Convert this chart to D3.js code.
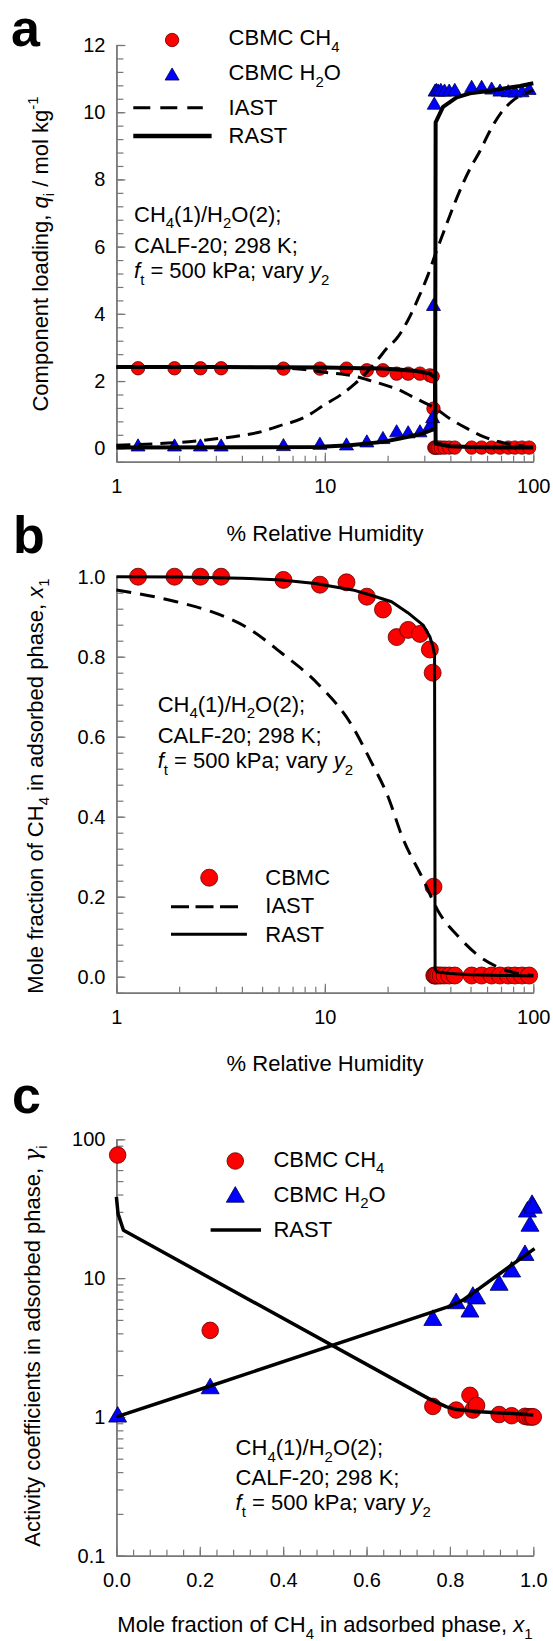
<!DOCTYPE html>
<html><head><meta charset="utf-8">
<script src="https://cdnjs.cloudflare.com/ajax/libs/d3/7.8.5/d3.min.js"></script>
<style>body{margin:0;background:#fff} svg text{font-family:"Liberation Sans",Arial,sans-serif;fill:#000}</style>
</head><body><svg id="c" width="553" height="1641"></svg>
<script>
// ---------- DATA ----------
const rhData  = [1.27,1.90,2.53,3.18,6.33,9.47,12.7,15.9,19.0,22.1,25.1,28.6,31.9,32.9,33.2,33.5,33.8,34.3,35.0,36.0,37.5,39.5,42.0,50.6,56.5,63.1,69.2,75.8,81.6,88.3,95.5];
const qCH4Data = [2.38,2.38,2.38,2.38,2.37,2.37,2.37,2.32,2.32,2.22,2.22,2.22,2.17,2.14,1.18,0.02,0.02,0.02,0.02,0.02,0.02,0.02,0.02,0.02,0.02,0.02,0.02,0.02,0.02,0.02,0.02];
const qH2OData = [0.04,0.04,0.04,0.04,0.05,0.09,0.07,0.16,0.26,0.46,0.43,0.46,0.64,0.88,4.22,10.21,10.60,10.62,10.60,10.62,10.60,10.60,10.62,10.71,10.71,10.66,10.60,10.58,10.57,10.58,10.65];
const x1Data = [1.0,1.0,1.0,1.0,0.992,0.98,0.986,0.95,0.918,0.849,0.867,0.857,0.818,0.76,0.225,0.003,0.003,0.003,0.003,0.003,0.003,0.003,0.003,0.003,0.003,0.003,0.003,0.003,0.003,0.003,0.003];

// RAST / IAST loadings (panel a)
const rastCH4rh = [1,3,6,10,15,19,24,27.6,31.9,33.5,33.8,34.0,39.7,50,70,100];
const rastCH4q  = [2.42,2.42,2.41,2.40,2.38,2.37,2.33,2.30,2.22,2.12,2.10,0.14,0.06,0.04,0.02,0.02];
const rastH2Orh = [1,4.4,9.1,13.2,19,22.9,29.5,33.1,33.8,34.0,36.9,42.9,49.7,62,86.4,100];
const rastH2Oq  = [0.02,0.03,0.04,0.09,0.19,0.29,0.44,0.56,0.60,9.70,10.16,10.44,10.56,10.64,10.78,10.86];
const iastCH4rh = [1,2,4,6,8,10,12,14,16,19,23,26,29.5,34,40,48,58,69,83,100];
const iastCH4q  = [2.42,2.42,2.41,2.39,2.34,2.26,2.21,2.14,2.04,1.90,1.72,1.55,1.38,1.18,0.87,0.59,0.34,0.19,0.09,0.03];
const iastH2Orh = [1,1.5,2,3,4,5,6,8,10,12,14,16,18,20,22,25,28,31,34,38,42,46,50,55,62,70,80,90,100];
const iastH2Oq  = [0.09,0.13,0.17,0.28,0.38,0.50,0.66,0.92,1.30,1.60,1.93,2.28,2.65,3.00,3.25,3.80,4.45,5.10,5.80,6.60,7.30,7.88,8.35,8.80,9.45,9.98,10.35,10.55,10.65];

// panel b curves
const rastBrh = [1,2,4,6.2,9,13.6,16.4,20.9,25,29.6,31.9,33.0,33.6,33.8,34.5,40,50,70,100];
const rastBx1 = [1.0,0.999,0.996,0.992,0.983,0.967,0.955,0.9375,0.91,0.879,0.85,0.825,0.805,0.02,0.012,0.008,0.005,0.003,0.002];
const iastBrh = [1,1.94,2.86,4.23,6.24,9.22,13.6,16.5,20.1,23.5,29.7,34.7,43.8,55.4,69.8,95.4,100];
const iastBx1 = [0.967,0.9375,0.9125,0.873,0.808,0.733,0.625,0.542,0.45,0.35,0.242,0.167,0.10,0.05,0.021,0.004,0.003];

// panel c
const x1c   = [0.003,0.225,0.759,0.815,0.848,0.855,0.864,0.918,0.948,0.98,0.986,0.992,0.997,1.0];
const gCH4c = [77,4.2,1.19,1.12,1.43,1.12,1.21,1.04,1.02,1.01,1.0,1.0,1.0,1.0];
const gH2Oc = [1.0,1.6,4.97,6.56,5.71,7.3,7.1,8.9,11.1,14.6,30,23.7,33.5,32];
const rastCx1CH4 = [0.0,0.004,0.017,0.748,0.792,0.816,0.872,0.968,1.0];
const rastCgCH4  = [38.5,29,22.1,1.36,1.18,1.13,1.09,1.05,1.03];
const rastCx1H2O = [0.0,0.225,0.795,0.83,0.87,0.92,0.968,1.003];
const rastCgH2O  = [1.0,1.67,6.2,6.9,8.4,10.8,13.7,16.3];

// tick labels
const xTicksRH = [1,10,100];
const yTicksA = [0,2,4,6,8,10,12];
const yTicksB = [0,0.2,0.4,0.6,0.8,1.0];
const yTicksC = [0.1,1,10,100];
const xTicksC = [0,0.2,0.4,0.6,0.8,1.0];

// ---------- DRAW ----------
const svg = d3.select("#c");
const AX = "#777";
const RED = "#ff0000", BLUE = "#0000ff";

function rich(g, x, y, parts, fs, anchor) {
  const t = g.append("text").attr("x", x).attr("y", y).attr("font-size", fs)
    .attr("text-anchor", anchor || "start");
  let shift = 0;
  parts.forEach(p => {
    const s = t.append("tspan").text(p.t);
    let target = 0;
    if (p.sub) { target = 0.3 * fs; s.attr("font-size", fs * 0.68); }
    if (p.sup) { target = -0.42 * fs; s.attr("font-size", fs * 0.68); }
    if (target !== shift) { s.attr("dy", target - shift); shift = target; }
    if (p.i) s.attr("font-style", "italic");
    if (p.f) s.style("font-family", p.f);
  });
  return t;
}

function styleAxis(g) {
  g.selectAll("path.domain").attr("stroke", AX).attr("stroke-width", 1.4);
  g.selectAll(".tick line").attr("stroke", AX).attr("stroke-width", 1.2);
  g.selectAll(".tick text").attr("font-size", 20).attr("fill", "#000")
    .style("font-family", '"Liberation Sans",Arial,sans-serif');
}

function drawAxes(x, y, xMajor, xMinor, xFmt, yMajor, yMinor, yFmt) {
  const x0 = x.range()[0], y0 = y.range()[0];
  const gx = svg.append("g").attr("transform", `translate(0,${y0})`);
  gx.append("g").call(d3.axisBottom(x).tickValues(xMinor).tickSize(-6).tickSizeOuter(0).tickFormat(""))
    .call(styleAxis);
  gx.append("g").call(d3.axisBottom(x).tickValues(xMajor).tickSize(-9).tickSizeOuter(0).tickPadding(17).tickFormat(xFmt))
    .call(styleAxis);
  const gy = svg.append("g").attr("transform", `translate(${x0},0)`);
  gy.append("g").call(d3.axisLeft(y).tickValues(yMinor).tickSize(-7).tickSizeOuter(0).tickFormat(""))
    .call(styleAxis);
  gy.append("g").call(d3.axisLeft(y).tickValues(yMajor).tickSize(-9).tickSizeOuter(0).tickPadding(11).tickFormat(yFmt))
    .call(styleAxis);
}

const logMinor = (lo, hi) => { const a = []; for (let d = lo; d < hi; d *= 10) for (let k = 1; k <= 10; k++) a.push(+(d * k).toPrecision(3)); return Array.from(new Set(a)); };
const range = (a, b, s) => { const r = []; for (let v = a; v <= b + 1e-9; v += s) r.push(+v.toFixed(4)); return r; };

function circles(data, x, y, r) {
  svg.append("g").selectAll("circle").data(data).join("circle")
    .attr("cx", d => x(d[0])).attr("cy", d => y(d[1])).attr("r", r)
    .attr("fill", RED).attr("stroke", "#5a0000").attr("stroke-width", 0.8);
}
function triangles(data, x, y, size) {
  svg.append("g").selectAll("path").data(data).join("path")
    .attr("d", d3.symbol(d3.symbolTriangle, size))
    .attr("transform", d => `translate(${x(d[0])},${y(d[1])})`)
    .attr("fill", BLUE).attr("stroke", "#00004a").attr("stroke-width", 0.8);
}
function line(xs, ys, x, y, w, dash, curve) {
  svg.append("path").datum(d3.zip(xs, ys))
    .attr("d", d3.line().x(d => x(d[0])).y(d => y(d[1])).curve(curve || d3.curveLinear))
    .attr("fill", "none").attr("stroke", "#000").attr("stroke-width", w)
    .attr("stroke-dasharray", dash || null).attr("stroke-linejoin", "round");
}
function panelLabel(t, x, y) {
  svg.append("text").attr("x", x).attr("y", y).attr("font-size", 52).attr("font-weight", "bold").text(t);
}

// ===== Panel a =====
const xa = d3.scaleLog().domain([1, 100]).range([116.4, 533.3]);
const ya = d3.scaleLinear().domain([-0.4, 12]).range([461.7, 45]);
drawAxes(xa, ya, xTicksRH, logMinor(1, 100), d3.format("d"), yTicksA, range(-0.4, 12, 0.4), d3.format("d"));
circles(d3.zip(rhData, qCH4Data), xa, ya, 6.7);
triangles(d3.zip(rhData, qH2OData), xa, ya, 85);
line(iastCH4rh, iastCH4q, xa, ya, 3, "14,8", d3.curveMonotoneX);
line(iastH2Orh, iastH2Oq, xa, ya, 3, "14,8", d3.curveMonotoneX);
line(rastCH4rh, rastCH4q, xa, ya, 4);
line(rastH2Orh, rastH2Oq, xa, ya, 4);
panelLabel("a", 11, 46);
// legend a
const lgA = svg.append("g");
lgA.append("circle").attr("cx", 172.1).attr("cy", 40).attr("r", 6.7).attr("fill", RED).attr("stroke", "#5a0000").attr("stroke-width", 0.8);
lgA.append("path").attr("d", d3.symbol(d3.symbolTriangle, 85)).attr("transform", "translate(172.1,76)").attr("fill", BLUE).attr("stroke", "#00004a").attr("stroke-width", 0.8);
lgA.append("line").attr("x1", 133.3).attr("x2", 202.8).attr("y1", 107.7).attr("y2", 107.7).attr("stroke", "#000").attr("stroke-width", 3).attr("stroke-dasharray", "17,10");
lgA.append("line").attr("x1", 133.3).attr("x2", 211.6).attr("y1", 136).attr("y2", 136).attr("stroke", "#000").attr("stroke-width", 4.5);
rich(lgA, 228.6, 45, [{t: "CBMC CH"}, {t: "4", sub: 1}], 22);
rich(lgA, 228.6, 80, [{t: "CBMC H"}, {t: "2", sub: 1}, {t: "O"}], 22);
rich(lgA, 228.6, 115, [{t: "IAST"}], 22);
rich(lgA, 228.6, 143, [{t: "RAST"}], 22);
rich(svg, 134, 221.5, [{t: "CH"}, {t: "4", sub: 1}, {t: "(1)/H"}, {t: "2", sub: 1}, {t: "O(2);"}], 22);
rich(svg, 134, 253, [{t: "CALF-20; 298 K;"}], 22);
rich(svg, 134, 278, [{t: "f", i: 1}, {t: "t", sub: 1}, {t: " = 500 kPa; vary "}, {t: "y", i: 1}, {t: "2", sub: 1}], 22);
// axis titles a
rich(svg, 325, 541, [{t: "% Relative Humidity"}], 22, "middle");
rich(svg.append("g").attr("transform", "translate(47.5,254) rotate(-90)"), 0, 0,
  [{t: "Component loading, "}, {t: "q", i: 1}, {t: "i", sub: 1}, {t: " / mol kg"}, {t: "-1", sup: 1}], 22, "middle");

// ===== Panel b =====
const xb = d3.scaleLog().domain([1, 100]).range([116.4, 533.3]);
const yb = d3.scaleLinear().domain([-0.04, 1.0]).range([992.7, 576.7]);
drawAxes(xb, yb, xTicksRH, logMinor(1, 100), d3.format("d"), yTicksB, range(-0.04, 1.0, 0.04), d3.format(".1f"));
circles(d3.zip(rhData, x1Data), xb, yb, 8.5);
line(iastBrh, iastBx1, xb, yb, 3, "15,9", d3.curveMonotoneX);
line(rastBrh, rastBx1, xb, yb, 3);
panelLabel("b", 13, 553);
const lgB = svg.append("g");
lgB.append("circle").attr("cx", 209.2).attr("cy", 877.7).attr("r", 8.5).attr("fill", RED).attr("stroke", "#5a0000").attr("stroke-width", 0.8);
lgB.append("line").attr("x1", 171).attr("x2", 239.9).attr("y1", 906.7).attr("y2", 906.7).attr("stroke", "#000").attr("stroke-width", 3).attr("stroke-dasharray", "18,6.5");
lgB.append("line").attr("x1", 171).attr("x2", 246.9).attr("y1", 934.3).attr("y2", 934.3).attr("stroke", "#000").attr("stroke-width", 3);
rich(lgB, 265.3, 885, [{t: "CBMC"}], 22);
rich(lgB, 265.3, 913, [{t: "IAST"}], 22);
rich(lgB, 265.3, 941.7, [{t: "RAST"}], 22);
rich(svg, 157.7, 711.7, [{t: "CH"}, {t: "4", sub: 1}, {t: "(1)/H"}, {t: "2", sub: 1}, {t: "O(2);"}], 22);
rich(svg, 157.7, 743, [{t: "CALF-20; 298 K;"}], 22);
rich(svg, 157.7, 768, [{t: "f", i: 1}, {t: "t", sub: 1}, {t: " = 500 kPa; vary "}, {t: "y", i: 1}, {t: "2", sub: 1}], 22);
rich(svg, 325, 1071, [{t: "% Relative Humidity"}], 22, "middle");
rich(svg.append("g").attr("transform", "translate(42.5,786) rotate(-90)"), 0, 0,
  [{t: "Mole fraction of CH"}, {t: "4", sub: 1}, {t: " in adsorbed phase, "}, {t: "x", i: 1}, {t: "1", sub: 1}], 22, "middle");

// ===== Panel c =====
const xc = d3.scaleLinear().domain([0, 1]).range([116.4, 533.3]);
const yc = d3.scaleLog().domain([0.1, 100]).range([1555.7, 1139.3]);
drawAxes(xc, yc, xTicksC, range(0, 1, 0.04), d3.format(".1f"), yTicksC, logMinor(0.1, 100), d => (d < 1 ? "0.1" : d3.format("d")(d)));
circles(d3.zip(x1c, gCH4c), xc, yc, 8.3);
triangles(d3.zip(x1c, gH2Oc), xc, yc, 140);
line(rastCx1CH4, rastCgCH4, xc, yc, 3.5);
line(rastCx1H2O, rastCgH2O, xc, yc, 3.5);
panelLabel("c", 12, 1113);
const lgC = svg.append("g");
lgC.append("circle").attr("cx", 235.3).attr("cy", 1161).attr("r", 8.3).attr("fill", RED).attr("stroke", "#5a0000").attr("stroke-width", 0.8);
lgC.append("path").attr("d", d3.symbol(d3.symbolTriangle, 140)).attr("transform", "translate(235.3,1197)").attr("fill", BLUE).attr("stroke", "#00004a").attr("stroke-width", 0.8);
lgC.append("line").attr("x1", 210.6).attr("x2", 261).attr("y1", 1230).attr("y2", 1230).attr("stroke", "#000").attr("stroke-width", 3.5);
rich(lgC, 273.4, 1166.7, [{t: "CBMC CH"}, {t: "4", sub: 1}], 22);
rich(lgC, 273.4, 1201.7, [{t: "CBMC H"}, {t: "2", sub: 1}, {t: "O"}], 22);
rich(lgC, 273.4, 1237, [{t: "RAST"}], 22);
rich(svg, 235.6, 1455, [{t: "CH"}, {t: "4", sub: 1}, {t: "(1)/H"}, {t: "2", sub: 1}, {t: "O(2);"}], 22);
rich(svg, 235.6, 1485, [{t: "CALF-20; 298 K;"}], 22);
rich(svg, 235.6, 1510, [{t: "f", i: 1}, {t: "t", sub: 1}, {t: " = 500 kPa; vary "}, {t: "y", i: 1}, {t: "2", sub: 1}], 22);
rich(svg, 325, 1632, [{t: "Mole fraction of CH"}, {t: "4", sub: 1}, {t: " in adsorbed phase, "}, {t: "x", i: 1}, {t: "1", sub: 1}], 22, "middle");
rich(svg.append("g").attr("transform", "translate(40,1346) rotate(-90)"), 0, 0,
  [{t: "Activity coefficients in adsorbed phase, "}, {t: "γ", i: 1, f: '"DejaVu Serif",serif'}, {t: "i", sub: 1}], 22, "middle");
</script>
</body></html>
